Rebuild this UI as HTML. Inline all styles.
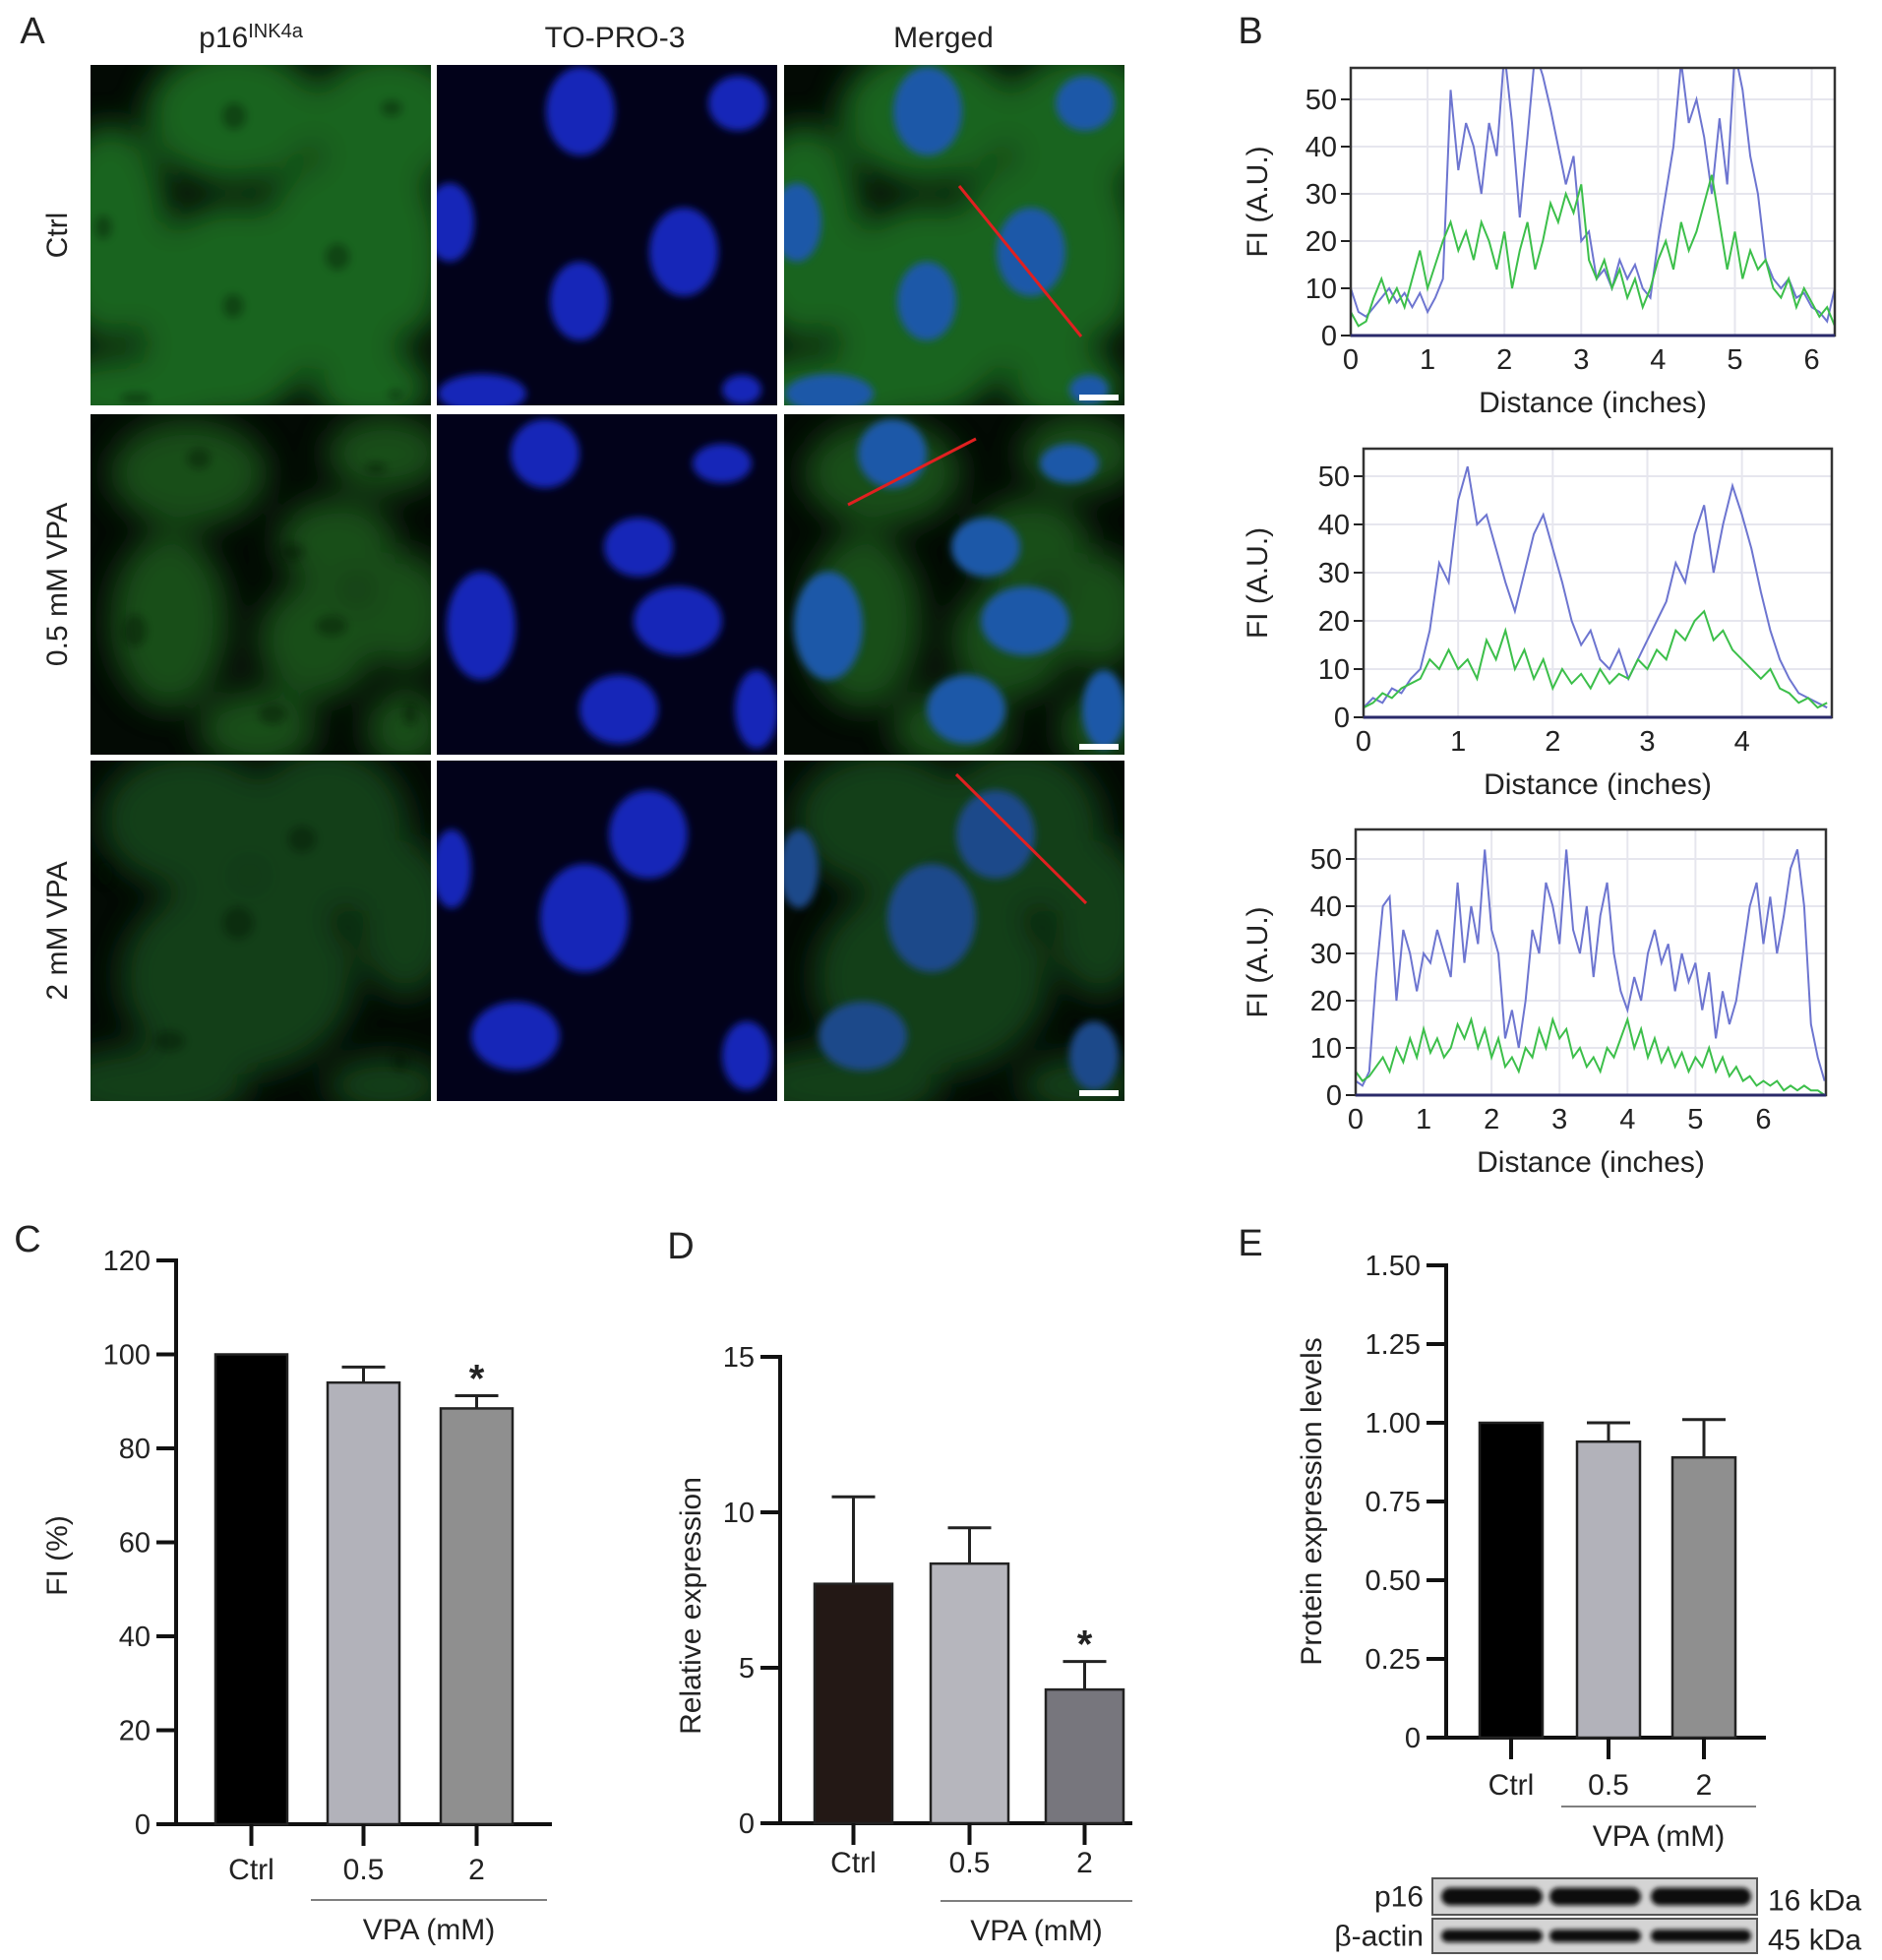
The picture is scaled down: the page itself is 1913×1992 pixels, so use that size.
<!DOCTYPE html>
<html><head><meta charset="utf-8"><style>
html,body{margin:0;padding:0;background:#fff;}
svg{display:block;font-family:"Liberation Sans",Arial,sans-serif;}
</style></head><body>
<svg id="fig" width="1913" height="1992" viewBox="0 0 1913 1992" xmlns="http://www.w3.org/2000/svg">
<defs>
<filter id="blurG" x="-50%" y="-50%" width="200%" height="200%"><feGaussianBlur stdDeviation="16"/></filter>
<filter id="blurB" x="-50%" y="-50%" width="200%" height="200%"><feGaussianBlur stdDeviation="4"/></filter>
<filter id="blurW" x="-20%" y="-50%" width="140%" height="200%"><feGaussianBlur stdDeviation="2.5"/></filter>
<clipPath id="cpB1"><rect x="1373" y="69" width="492" height="272"/></clipPath>
<clipPath id="cpB2"><rect x="1386" y="456" width="476" height="273"/></clipPath>
<clipPath id="cpB3"><rect x="1378" y="843" width="478" height="270"/></clipPath>
</defs>
<g id="root"></g>
</svg>
<script>
// ---------- Panel B data (line profiles) ----------
const b1Blue = [10,5,4,6,8,10,7,9,6,9,5,8,12,52,35,45,40,30,45,38,60,45,25,42,60,55,48,40,32,38,20,22,12,14,10,16,12,15,10,8,20,30,40,58,45,50,42,30,46,32,60,52,38,30,16,12,10,12,8,9,6,5,3,10];
const b1Green = [5,2,3,8,12,7,10,6,12,18,10,15,20,24,18,22,16,24,20,14,22,10,18,24,14,20,28,24,30,26,32,16,12,16,10,14,8,12,6,10,16,20,14,24,18,22,28,34,24,14,22,12,18,14,16,10,8,12,6,10,7,4,6,2];
const b2Blue = [2,4,3,6,5,8,10,18,32,28,45,52,40,42,35,28,22,30,38,42,35,28,20,15,18,12,10,14,8,12,16,20,24,32,28,38,44,30,40,48,42,35,26,18,12,8,5,4,3,2];
const b2Green = [2,3,5,4,6,7,8,12,10,14,10,12,8,16,12,18,10,14,8,12,6,10,7,9,6,10,7,9,8,12,10,14,12,18,16,20,22,16,18,14,12,10,8,10,6,5,3,4,2,3];
const b3Blue = [3,2,5,25,40,42,20,35,30,22,30,28,35,30,25,45,28,40,32,52,35,30,12,18,10,20,35,30,45,40,32,52,35,30,40,25,38,45,30,22,18,25,20,30,35,28,32,22,30,24,28,18,26,12,22,15,20,30,40,45,32,42,30,38,48,52,40,15,8,3];
const b3Green = [5,3,4,6,8,5,10,7,12,8,14,9,12,8,10,15,12,16,10,14,8,12,6,8,5,10,8,14,10,16,12,14,8,10,6,8,5,10,8,12,16,10,14,8,12,7,10,6,9,5,8,6,10,5,8,4,6,3,4,2,3,2,3,1,2,1,2,1,1,0];
const profStep = 0.1;
const b1XTicks = [0,1,2,3,4,5,6];
const b2XTicks = [0,1,2,3,4];
const b3XTicks = [0,1,2,3,4,5,6];
const bYTicks = [0,10,20,30,40,50];
// ---------- Panel C ----------
const cCats = ["Ctrl","0.5","2"];
const cVals = [100,94,88.5];
const cErr = [0,3.3,2.7];
const cTicks = [0,20,40,60,80,100,120];
// ---------- Panel D ----------
const dCats = ["Ctrl","0.5","2"];
const dVals = [7.7,8.35,4.3];
const dErr = [2.8,1.15,0.9];
const dTicks = [0,5,10,15];
// ---------- Panel E ----------
const eCats = ["Ctrl","0.5","2"];
const eVals = [1.0,0.94,0.89];
const eErr = [0,0.06,0.12];
const eTicks = ["0","0.25","0.50","0.75","1.00","1.25","1.50"];

const NS="http://www.w3.org/2000/svg";
const root=document.getElementById('root');
function mk(tag,attrs,parent){const e=document.createElementNS(NS,tag);for(const k in attrs)e.setAttribute(k,attrs[k]);(parent||root).appendChild(e);return e;}
function txt(s,x,y,size,anchor,parent,extra){const t=mk('text',Object.assign({x:x,y:y,'font-size':size,'text-anchor':anchor||'middle',fill:'#222'},extra||{}),parent);t.textContent=s;return t;}

// ---------- Panel A (micrographs) ----------
const gA=mk('g',{});


const lblA=txt('A',33,44,38,'middle',gA);


const colX=[92,444,797], rowY=[66,421,773], W=346, H=346;
const ct0=txt('p16',255,48,30,'middle',gA);
const sup=mk('tspan',{dy:-10,'font-size':20},ct0);sup.textContent='INK4a';


const ct1=txt('TO-PRO-3',625,48,30,'middle',gA);


const ct2=txt('Merged',959,48,30,'middle',gA);


const rowTitles=['Ctrl','0.5 mM VPA','2 mM VPA'];
rowTitles.forEach((r,i)=>{const cy=rowY[i]+H/2;const t=txt(r,68,cy,30,'middle',gA,{transform:`rotate(-90 68 ${cy})`});

});
const greens=[
 [[146,51,90,70],[303,56,80,70],[20,170,60,110],[253,203,90,110],[143,250,95,110],[330,196,30,80],[46,334,100,40],[286,327,60,40]],
 [[100,60,80,55],[300,40,60,40],[250,130,60,45],[80,210,60,90],[230,230,60,60],[320,200,45,60],[320,320,40,40],[170,320,60,40]],
 [[100,60,90,70],[240,70,85,85],[150,220,120,100],[320,160,50,80],[60,330,100,40],[300,330,60,30]]];
const blues=[
 [[146,47,35,45],[306,39,30,28],[13,160,25,40],[251,190,35,45],[145,240,30,40],[46,334,45,20],[310,330,20,15]],
 [[110,40,35,35],[290,50,30,20],[205,135,35,30],[45,215,35,55],[245,210,45,35],[185,300,40,35],[325,300,22,40]],
 [[215,75,40,45],[15,110,20,40],[150,160,45,55],[80,280,45,35],[315,300,25,35]]];
const gCol=['#1f6e22','#1a5a1d','#17491a'];
const gOp=[0.9,0.85,0.85];
for(let r=0;r<3;r++){for(let c=0;c<3;c++){
  const x=colX[c],y=rowY[r];
  const g=mk('g',{},gA);
  
  
  const cp=mk('clipPath',{id:`cp${r}${c}`},g);
  mk('rect',{x:x,y:y,width:W,height:H},cp);
  const inner=mk('g',{'clip-path':`url(#cp${r}${c})`},g);
  mk('rect',{x:x,y:y,width:W,height:H,fill:c==1?'#02021a':'#030a04'},inner);
  if(c!=1){const gg=mk('g',{filter:'url(#blurG)',opacity:gOp[r]},inner);greens[r].forEach(e=>mk('ellipse',{cx:x+e[0],cy:y+e[1],rx:e[2],ry:e[3],fill:gCol[r]},gg));
    if(c==0){const gd=mk('g',{filter:'url(#blurB)',opacity:0.35},inner);blues[r].forEach(e=>mk('ellipse',{cx:x+e[0],cy:y+e[1]+5,rx:e[2]*0.35,ry:e[3]*0.3,fill:'#031004'},gd));}}
  if(c!=0){const gb=mk('g',{filter:'url(#blurB)'},inner);blues[r].forEach(e=>mk('ellipse',{cx:x+e[0],cy:y+e[1],rx:e[2],ry:e[3],fill:c==1?'#1626b8':(r==2?'#1f4a8a':'#1d58a8')},gb));}
  if(c==2){mk('rect',{x:x+300,y:y+H-11,width:40,height:6,fill:'#fff'},inner);}
}}
const redLines=[[975,189,1099,342],[862,513,992,446],[972,787,1104,918]];
redLines.forEach(l=>{const e=mk('line',{x1:l[0],y1:l[1],x2:l[2],y2:l[3],stroke:'#e02020','stroke-width':3},gA);

});

// ---------- Panel B ----------
const lblB=txt('B',1271,44,38);


function profile(box,xmax,xTicks,blue,green,clip,name){
  const [L,T,R,B]=box;
  const g=mk('g',{});
  
  
  const sx=v=>L+v/xmax*(R-L), sy=v=>B-v*box[4];
  mk('rect',{x:L,y:T,width:R-L,height:B-T,fill:'#fff'},g);
  xTicks.forEach(t=>{mk('line',{x1:sx(t),y1:T,x2:sx(t),y2:B,stroke:'#e6e6ee','stroke-width':2},g);
    const tl=txt(String(t),sx(t),B+34,29,'middle',g);});
  bYTicks.forEach(t=>{mk('line',{x1:L,y1:sy(t),x2:R,y2:sy(t),stroke:'#e6e6ee','stroke-width':2},g);
    mk('line',{x1:L-10,y1:sy(t),x2:L,y2:sy(t),stroke:'#222','stroke-width':2},g);
    const tl=txt(String(t),L-14,sy(t)+10,29,'end',g);});
  const cg=mk('g',{'clip-path':`url(#${clip})`},g);
  const pb=mk('polyline',{points:blue.map((v,i)=>sx(i*profStep)+','+sy(v)).join(' '),fill:'none',stroke:'#6d75d0','stroke-width':2},cg);
  
  
  const pg=mk('polyline',{points:green.map((v,i)=>sx(i*profStep)+','+sy(v)).join(' '),fill:'none',stroke:'#3cbf4a','stroke-width':2},cg);
  
  
  mk('rect',{x:L,y:T,width:R-L,height:B-T,fill:'none',stroke:'#333','stroke-width':2.5},g);
  mk('line',{x1:L,y1:B,x2:R,y2:B,stroke:'#2a2a6a','stroke-width':3},g);
  const xt=txt('Distance (inches)',(L+R)/2,B+78,30,'middle',g);
  
  
  const cy=(T+B)/2;const yt=txt('FI (A.U.)',1288,cy,30,'middle',g,{transform:`rotate(-90 1288 ${cy})`});
  
  
}
profile([1373,69,1865,341,4.8],6.3,b1XTicks,b1Blue,b1Green,'cpB1','profile-chart-ctrl');
profile([1386,456,1862,729,4.9],4.95,b2XTicks,b2Blue,b2Green,'cpB2','profile-chart-05');
profile([1378,843,1856,1113,4.8],6.92,b3XTicks,b3Blue,b3Green,'cpB3','profile-chart-2');

// ---------- Bar charts ----------
function barChart(o){
  const g=mk('g',{});
  
  
  const sy=v=>o.base-v*o.pxPerUnit;
  const lab=txt(o.letter,o.lx,o.ly,38,'middle',g);
  
  
  o.ticks.forEach(t=>{const v=parseFloat(t);
    mk('line',{x1:o.ax-20,y1:sy(v),x2:o.ax,y2:sy(v),stroke:'#111','stroke-width':4},g);
    const tl=txt(String(t),o.ax-26,sy(v)+10,29,'end',g);});
  mk('line',{x1:o.ax,y1:sy(parseFloat(o.ticks[o.ticks.length-1]))-2,x2:o.ax,y2:o.base+2,stroke:'#111','stroke-width':4},g);
  mk('line',{x1:o.ax-20,y1:o.base,x2:o.axEnd,y2:o.base,stroke:'#111','stroke-width':4},g);
  o.vals.forEach((v,i)=>{
    const x=o.bx[i], cx=x+o.bw/2;
    if(o.err[i]>0){const et=sy(v+o.err[i]);
      mk('line',{x1:cx,y1:et,x2:cx,y2:sy(v),stroke:'#222','stroke-width':3},g);
      mk('line',{x1:cx-22,y1:et,x2:cx+22,y2:et,stroke:'#222','stroke-width':3},g);}
    const b=mk('rect',{x:x,y:sy(v),width:o.bw,height:o.base-sy(v),fill:o.colors[i],stroke:'#222','stroke-width':2.5},g);
    
    
    mk('line',{x1:cx,y1:o.base,x2:cx,y2:o.base+22,stroke:'#111','stroke-width':4},g);
    const cl=txt(o.cats[i],cx,o.catY,30,'middle',g);
    
    
    if(o.star===i){const s=txt('*',cx,sy(v+o.err[i])-4,40,'middle',g,{'font-weight':'bold'});
      
      }
  });
  mk('line',{x1:o.lineX[0],y1:o.lineY,x2:o.lineX[1],y2:o.lineY,stroke:'#555','stroke-width':1.5},g);
  const vt=txt('VPA (mM)',(o.lineX[0]+o.lineX[1])/2,o.lineY+40,30,'middle',g);
  
  
  const yt=txt(o.ytitle,o.ytx,o.yty,30,'middle',g,{transform:`rotate(-90 ${o.ytx} ${o.yty})`});
  
  
}
barChart({name:'chart-c',letter:'C',lx:28,ly:1272,ticks:cTicks,vals:cVals,err:cErr,cats:cCats,base:1854,pxPerUnit:95.5/20,ax:179,axEnd:561,
  bx:[219,333,448],bw:73,colors:['#000','#b2b2ba','#8f8f8f'],star:2,catY:1910,lineX:[316,556],lineY:1931,ytitle:'FI (%)',ytx:68,yty:1581});
barChart({name:'chart-d',letter:'D',lx:692,ly:1279,ticks:dTicks,vals:dVals,err:dErr,cats:dCats,base:1853,pxPerUnit:158/5,ax:793,axEnd:1151,
  bx:[828,946,1063],bw:79,colors:['#231815','#b6b6bd','#77767d'],star:2,catY:1903,lineX:[956,1151],lineY:1932,ytitle:'Relative expression',ytx:712,yty:1632});
barChart({name:'chart-e',letter:'E',lx:1271,ly:1276,ticks:eTicks,vals:eVals,err:eErr,cats:eCats,base:1766,pxPerUnit:80/0.25,ax:1470,axEnd:1795,
  bx:[1504,1603,1700],bw:64,colors:['#000','#b2b2ba','#8f8f8f'],star:-1,catY:1824,lineX:[1587,1785],lineY:1836,ytitle:'Protein expression levels',ytx:1343,yty:1526});

// ---------- Western blot ----------
const wb=mk('g',{});


[[1909,37,'p16','16 kDa',18],[1950,35,'β-actin','45 kDa',13]].forEach(r=>{
  mk('rect',{x:1456,y:r[0],width:330,height:r[1],fill:'#d4d4d4',stroke:'#555','stroke-width':2},wb);
  const bg=mk('g',{filter:'url(#blurW)'},wb);
  [[1465,1568],[1575,1668],[1678,1780]].forEach(b=>mk('rect',{x:b[0],y:r[0]+r[1]/2-r[4]/2,width:b[1]-b[0],height:r[4],rx:r[4]/2,fill:'#0a0a0a'},bg));
  const l=txt(r[2],1447,r[0]+r[1]/2+10,30,'end',wb);
  
  
  const k=txt(r[3],1797,r[0]+r[1]/2+14,30,'start',wb);
  
  
});
</script>
</body></html>
